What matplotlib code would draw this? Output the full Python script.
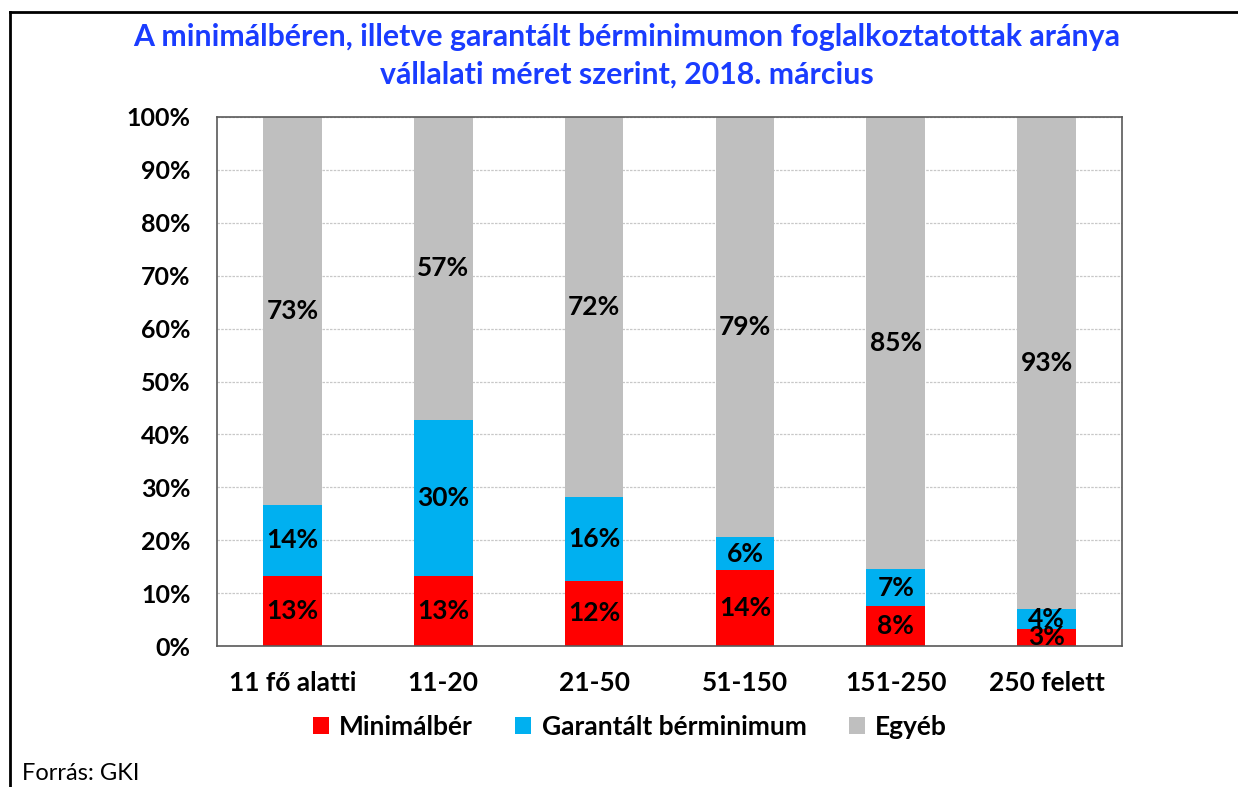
import matplotlib
matplotlib.use("Agg")
import matplotlib.pyplot as plt
from matplotlib.lines import Line2D
from matplotlib.patches import Patch

categories = ["11 fő alatti", "11-20", "21-50", "51-150", "151-250", "250 felett"]
minimalber = [13.2, 13.2, 12.3, 14.3, 7.5, 3.3]
garantalt = [13.5, 29.6, 15.8, 6.3, 7.1, 3.6]
egyeb = [73.3, 57.2, 71.9, 79.4, 85.4, 93.1]
series_names = ["Minimálbér", "Garantált bérminimum", "Egyéb"]
colors = ["#FF0000", "#00B0F0", "#BFBFBF"]
yticks = [0, 10, 20, 30, 40, 50, 60, 70, 80, 90, 100]

FONT = ["Lato", "DejaVu Sans"]
plt.rcParams["font.family"] = FONT

fig = plt.figure(figsize=(12.38, 7.87), dpi=100)
W, H = 1238, 787
ax = fig.add_axes([217 / W, 1 - 646 / H, (1122 - 217) / W, (646 - 117) / H])

x = list(range(len(categories)))
bw = 0.39
bottoms = [0] * len(categories)
for vals, col, name in zip([minimalber, garantalt, egyeb], colors, series_names):
    ax.bar(x, vals, bw, bottom=bottoms, color=col, label=name, zorder=2)
    for i, v in enumerate(vals):
        yc = bottoms[i] + v / 2
        ax.text(i, yc, f"{round(v)}%", ha="center", va="center",
                fontsize=19, fontweight="bold", color="black", zorder=3)
    bottoms = [b + v for b, v in zip(bottoms, vals)]

ax.set_xlim(-0.5, len(categories) - 0.5)
ax.set_ylim(0, 100)
ax.set_yticks(yticks)
ax.set_yticklabels([f"{t}%" for t in yticks], fontsize=18, fontweight="bold")
ax.set_xticks(x)
ax.set_xticklabels(categories, fontsize=19, fontweight="bold")
ax.tick_params(axis="both", length=0)
ax.tick_params(axis="y", pad=19)
ax.tick_params(axis="x", pad=18)
ax.yaxis.grid(True, color="#C8C8C8", linestyle=(0, (2, 1)), linewidth=0.9, zorder=0)
ax.set_axisbelow(True)
for s in ax.spines.values():
    s.set_color("#595959")
    s.set_linewidth(1.2)

fig.text(0.506, 1 - 37 / H, "A minimálbéren, illetve garantált bérminimumon foglalkoztatottak aránya",
         ha="center", va="center", fontsize=21.8, fontweight="bold", color="#1A3CFF")
fig.text(0.506, 1 - 75 / H, "vállalati méret szerint, 2018. március",
         ha="center", va="center", fontsize=21.8, fontweight="bold", color="#1A3CFF")

handles = [Patch(facecolor=c, edgecolor="none") for c in colors]
fig.legend(handles, series_names, loc="center", bbox_to_anchor=(630 / W, 1 - 727 / H),
           ncol=3, frameon=False, prop={"size": 19, "weight": "bold", "family": FONT},
           handlelength=0.6, handleheight=0.6, handletextpad=0.4, columnspacing=1.6)

fig.text(22 / W, 1 - 773 / H, "Forrás: GKI", ha="left", va="center", fontsize=17, color="black")

# outer frame (top and left edges)
fig.add_artist(Line2D([10 / W, 10 / W], [0, 1 - 12 / H], transform=fig.transFigure, color="black", linewidth=2))
fig.add_artist(Line2D([10 / W, 1], [1 - 12 / H, 1 - 12 / H], transform=fig.transFigure, color="black", linewidth=2))

fig.savefig("out.png", dpi=100, facecolor="white")
